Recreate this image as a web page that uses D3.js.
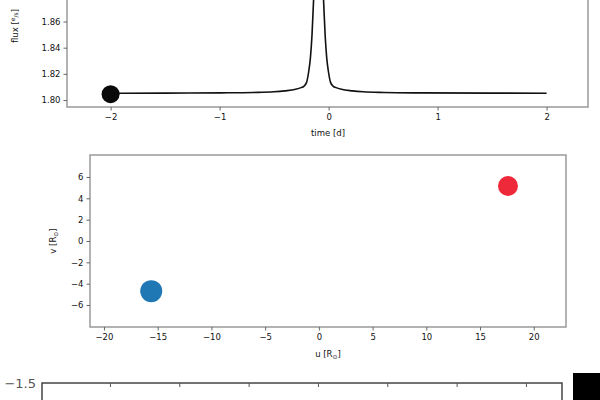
<!DOCTYPE html>
<html>
<head>
<meta charset="utf-8">
<script src="https://cdn.jsdelivr.net/npm/d3@7"></script>
<style>
body { margin: 0; background: #fff; }
text { font-family: "DejaVu Sans", sans-serif; }
</style>
</head>
<body>
<svg id="chart" width="600" height="400"></svg>
<script>
// light curve
const lcTime = [-2.0, -1.5, -0.992, -0.692, -0.502, -0.402, -0.302, -0.252, -0.227, -0.202, -0.182, -0.167, -0.152, -0.138, -0.127, -0.112,
                -0.092,
                -0.072, -0.057, -0.046, -0.032, -0.017, -0.002, 0.018, 0.043, 0.068, 0.118, 0.218, 0.318, 0.508, 0.808, 1.5, 2.0];
const lcFlux = [1.8052, 1.8053, 1.8055, 1.8058, 1.8063, 1.8070, 1.8082, 1.8095, 1.8105, 1.8135, 1.8220, 1.8320, 1.8500, 1.8760, 1.8950, 1.9300,
                1.9700,
                1.9300, 1.8950, 1.8760, 1.8500, 1.8320, 1.8220, 1.8135, 1.8105, 1.8095, 1.8082, 1.8070, 1.8063, 1.8058, 1.8055, 1.8053, 1.8052];
const nowTime = [-2.0];
const nowFlux = [1.8045];
const timeTicks = [-2, -1, 0, 1, 2];
const fluxTicks = [1.80, 1.82, 1.84, 1.86];

// sky positions in solar radii
const starU = [-15.6, 17.6];
const starV = [-4.7, 5.15];
const starColors = ["#1f77b4", "#ee2a3a"];
const starRadius = [11, 10];
const uTicks = [-20, -15, -10, -5, 0, 5, 10, 15, 20];
const vTicks = [-6, -4, -2, 0, 2, 4, 6];

// image panel (mostly off the bottom)
const imgXTicks = [-3, -2, -1, 0, 1, 2, 3];
const imgYTicks = [-1.5];

const svg = d3.select("#chart");
const tickFont = 8.5;
const ink = "#111";
const spine = "#999";

function styleAxis(g) {
    g.select(".domain").remove();
    g.selectAll(".tick line").attr("stroke", "#666").attr("stroke-width", 1);
    g.selectAll(".tick text").attr("fill", ink).style("font-size", tickFont + "px");
}

function frame(x0, y0, x1, y1, color, w) {
    svg.append("rect")
        .attr("x", x0).attr("y", y0)
        .attr("width", x1 - x0).attr("height", y1 - y0)
        .attr("fill", "none").attr("stroke", color).attr("stroke-width", w);
}

// ---- top panel: flux vs time ----
const x1 = d3.scaleLinear().domain([-2.4, 2.38]).range([67, 588]);
const y1 = d3.scaleLinear().domain([1.7947, 1.88]).range([107, -4.7]);

svg.append("clipPath").attr("id", "clipTop")
  .append("rect").attr("x", 67).attr("y", -20).attr("width", 521).attr("height", 127);

const lc = lcTime.map((t, i) => ({ t, f: lcFlux[i] }));
svg.append("path")
    .datum(lc)
    .attr("clip-path", "url(#clipTop)")
    .attr("fill", "none")
    .attr("stroke", "#111")
    .attr("stroke-width", 1.6)
    .attr("d", d3.line().x(d => x1(d.t)).y(d => y1(d.f)).curve(d3.curveMonotoneX));

svg.selectAll(".now")
    .data(nowTime)
  .enter().append("circle")
    .attr("cx", d => x1(d))
    .attr("cy", (d, i) => y1(nowFlux[i]))
    .attr("r", 9)
    .attr("fill", "#0a0a0a");

frame(67, -20, 588, 107, spine, 1.5);

svg.append("g")
    .attr("transform", "translate(0,107)")
    .call(d3.axisBottom(x1).tickValues(timeTicks).tickFormat(d3.format("d")).tickSize(3.5).tickPadding(3))
    .call(styleAxis);

svg.append("g")
    .attr("transform", "translate(67,0)")
    .call(d3.axisLeft(y1).tickValues(fluxTicks).tickFormat(d3.format(".2f")).tickSize(3.5).tickPadding(3))
    .call(styleAxis);

svg.append("text")
    .attr("x", 328).attr("y", 136)
    .attr("text-anchor", "middle")
    .attr("fill", ink).style("font-size", "8.5px")
    .text("time [d]");

const fluxLabel = svg.append("text")
    .attr("transform", "translate(18,43) rotate(-90)")
    .attr("text-anchor", "start")
    .attr("fill", ink).style("font-size", "8.5px");
fluxLabel.append("tspan").text("flux [");
fluxLabel.append("tspan").style("font-size", "6px").attr("dy", -3).text("e");
fluxLabel.append("tspan").style("font-size", "6px").attr("dy", 3).text("/s");
fluxLabel.append("tspan").text("]");

// ---- middle panel: sky positions ----
const x2 = d3.scaleLinear().domain([-21.3, 23]).range([90, 566]);
const y2 = d3.scaleLinear().domain([-8.06, 8.06]).range([327, 155]);

svg.selectAll(".star")
    .data(starU)
  .enter().append("circle")
    .attr("cx", d => x2(d))
    .attr("cy", (d, i) => y2(starV[i]))
    .attr("r", (d, i) => starRadius[i])
    .attr("fill", (d, i) => starColors[i]);

frame(90, 155, 566, 327, spine, 1.5);

svg.append("g")
    .attr("transform", "translate(0,327)")
    .call(d3.axisBottom(x2).tickValues(uTicks).tickFormat(d3.format("d")).tickSize(3.5).tickPadding(3))
    .call(styleAxis);

svg.append("g")
    .attr("transform", "translate(90,0)")
    .call(d3.axisLeft(y2).tickValues(vTicks).tickFormat(d3.format("d")).tickSize(3.5).tickPadding(3))
    .call(styleAxis);

const uLabel = svg.append("text")
    .attr("x", 328).attr("y", 357)
    .attr("text-anchor", "middle")
    .attr("fill", ink).style("font-size", "8.5px");
uLabel.append("tspan").text("u [R");
uLabel.append("tspan").style("font-size", "6px").attr("dy", 2).text("\u2299");
uLabel.append("tspan").attr("dy", -2).text("]");

const vLabel = svg.append("text")
    .attr("transform", "translate(56,241) rotate(-90)")
    .attr("text-anchor", "middle")
    .attr("fill", ink).style("font-size", "8.5px");
vLabel.append("tspan").text("v [R");
vLabel.append("tspan").style("font-size", "6px").attr("dy", 2).text("\u2299");
vLabel.append("tspan").attr("dy", -2).text("]");

// ---- bottom panel: image, only its top edge shows ----
const x3 = d3.scaleLinear().domain([-3.98, 3.52]).range([42, 562]);
const y3 = d3.scaleLinear().domain([-1.5, 1.5]).range([383, 560]);

frame(42, 383, 562, 560, "#444", 1.5);

svg.append("g")
    .attr("transform", "translate(0,383)")
    .call(d3.axisTop(x3).tickValues(imgXTicks).tickSize(-4).tickFormat(""))
    .call(g => g.select(".domain").remove())
    .call(g => g.selectAll(".tick line").attr("stroke", "#555"));

svg.append("g")
    .attr("transform", "translate(42,0)")
    .call(d3.axisLeft(y3).tickValues(imgYTicks).tickSize(0).tickPadding(6).tickFormat(d3.format(".1f")))
    .call(g => g.select(".domain").remove())
    .call(g => g.selectAll(".tick text").attr("fill", "#555").style("font-size", "13px"));

// colour bar, black at the top end
svg.append("rect")
    .attr("x", 573).attr("y", 373)
    .attr("width", 30).attr("height", 60)
    .attr("fill", "#000");
</script>
</body>
</html>
